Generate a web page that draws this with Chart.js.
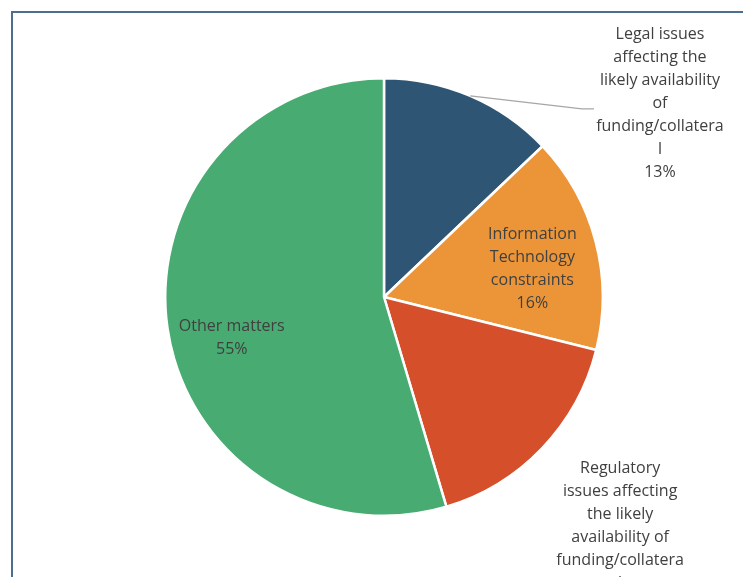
<!DOCTYPE html>
<html>
<head>
<meta charset="utf-8">
<script src="https://cdn.jsdelivr.net/npm/chart.js@4/dist/chart.umd.min.js"></script>
<style>
  html, body { margin: 0; padding: 0; background: #fff; }
  #wrap { width: 743px; height: 577px; position: relative; }
</style>
</head>
<body>
<div id="wrap"><canvas id="pieChart" width="743" height="577"></canvas></div>
<script>
const categories = [
  'Legal issues affecting the likely availability of funding/collateral',
  'Information Technology constraints',
  'Regulatory issues affecting the likely availability of funding/collateral',
  'Other matters'
];
const shares = [12.9, 16.0, 16.5, 54.6];
const sliceColors = ['#2e5573', '#ec9538', '#d54f2a', '#48ab72'];

// how each label is wrapped, as in the original
const labelLines = [
  ['Legal issues', 'affecting the', 'likely availability', 'of', 'funding/collatera', 'l'],
  ['Information', 'Technology', 'constraints'],
  ['Regulatory', 'issues affecting', 'the likely', 'availability of', 'funding/collatera', 'l'],
  ['Other matters']
];

// label placement: angle (deg from top, clockwise) and distance as share of radius
const labelPos = [
  { angle: 55, dist: 1.54, leader: true },
  { angle: 79.4, dist: 0.69 },
  { angle: 135.5, dist: 1.54 },
  { angle: 255.1, dist: 0.72 }
];

const total = shares.reduce((a, b) => a + b, 0);

const frameAndLabels = {
  id: 'frameAndLabels',
  afterDraw(chart) {
    const ctx = chart.ctx;
    // outer frame
    ctx.save();
    ctx.strokeStyle = '#4a6f8f';
    ctx.lineWidth = 2;
    ctx.beginPath();
    ctx.moveTo(12, chart.height);
    ctx.lineTo(12, 12);
    ctx.lineTo(chart.width, 12);
    ctx.stroke();
    ctx.restore();

    const meta = chart.getDatasetMeta(0);
    const arc0 = meta.data[0];
    const cx = arc0.x, cy = arc0.y, r = arc0.outerRadius;
    const lineH = 23;

    ctx.save();
    ctx.font = '16px "Open Sans", Lato, sans-serif';
    ctx.fillStyle = '#404040';
    ctx.textAlign = 'center';
    ctx.textBaseline = 'middle';
    labelPos.forEach((p, i) => {
      const a = p.angle * Math.PI / 180;
      const lx = cx + Math.sin(a) * r * p.dist;
      const ly = cy - Math.cos(a) * r * p.dist;
      const lines = labelLines[i].concat([Math.round(shares[i] / total * 100) + '%']);
      const top = ly - (lines.length - 1) * lineH / 2;
      lines.forEach((t, j) => ctx.fillText(t, lx, top + j * lineH));

      if (p.leader) {
        const arc = meta.data[i];
        const mid = (arc.startAngle + arc.endAngle) / 2;
        const sx = cx + Math.cos(mid) * r;
        const sy = cy + Math.sin(mid) * r;
        const ex = lx - 78;
        const ey = top + 3 * lineH + 5;
        ctx.strokeStyle = '#a6a6a6';
        ctx.lineWidth = 1.3;
        ctx.beginPath();
        ctx.moveTo(sx, sy);
        ctx.lineTo(ex, ey);
        ctx.lineTo(ex + 12, ey);
        ctx.stroke();
      }
    });
    ctx.restore();
  }
};

new Chart(document.getElementById('pieChart').getContext('2d'), {
  type: 'pie',
  data: {
    labels: categories,
    datasets: [{
      data: shares,
      backgroundColor: sliceColors,
      borderColor: '#ffffff',
      borderWidth: 2.5
    }]
  },
  options: {
    responsive: false,
    animation: false,
    layout: { padding: { top: 77, bottom: 60, left: 164, right: 139 } },
    plugins: {
      legend: { display: false },
      tooltip: { enabled: false },
      title: { display: false }
    }
  },
  plugins: [frameAndLabels]
});
</script>
</body>
</html>
